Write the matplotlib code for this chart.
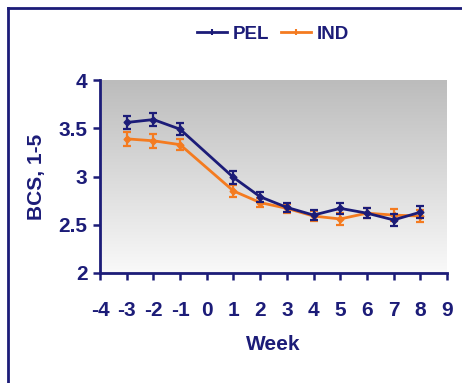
import numpy as np
import matplotlib
matplotlib.use("Agg")
import matplotlib.pyplot as plt
from matplotlib.lines import Line2D
from matplotlib.colors import LinearSegmentedColormap

# Body condition score by week relative to calving
weeks = [-3, -2, -1, 1, 2, 3, 4, 5, 6, 7, 8]
pel_mean = [3.56, 3.59, 3.49, 2.99, 2.79, 2.68, 2.60, 2.67, 2.62, 2.55, 2.63]
pel_err = [0.07, 0.07, 0.06, 0.07, 0.05, 0.05, 0.05, 0.06, 0.05, 0.06, 0.06]
ind_mean = [3.39, 3.37, 3.33, 2.85, 2.73, 2.67, 2.59, 2.56, 2.62, 2.60, 2.59]
ind_err = [0.07, 0.07, 0.06, 0.06, 0.05, 0.05, 0.05, 0.06, 0.05, 0.06, 0.06]
series_names = ["PEL", "IND"]
x_ticks = list(range(-4, 10))
y_ticks = [2, 2.5, 3, 3.5, 4]
y_tick_labels = ["2", "2.5", "3", "3.5", "4"]

NAVY = "#1c1c78"
ORANGE = "#f47b20"

plt.rcParams["font.family"] = ["Liberation Sans", "DejaVu Sans"]
plt.rcParams["font.weight"] = "bold"

fig = plt.figure(figsize=(4.62, 3.83), dpi=100)
fig.patch.set_facecolor("white")

# Outer frame (top and left edges)
fig.add_artist(Line2D([8 / 462, 1.0], [1 - 8 / 383, 1 - 8 / 383],
                      transform=fig.transFigure, color=NAVY, lw=2.0))
fig.add_artist(Line2D([8 / 462, 8 / 462], [0.0, 1 - 8 / 383],
                      transform=fig.transFigure, color=NAVY, lw=2.0))

ax = fig.add_axes([100 / 462, 1 - 273 / 383, 347 / 462, 193 / 383])
ax.set_xlim(-4, 9)
ax.set_ylim(2, 4)

# Gray vertical gradient behind the data
grad = np.linspace(0, 1, 256).reshape(-1, 1)
cmap = LinearSegmentedColormap.from_list("bg", ["#f9f9f9", "#bcbcbc"])
ax.imshow(grad, extent=[-4, 9, 2, 4], origin="lower", aspect="auto",
          cmap=cmap, zorder=0, interpolation="bicubic")

ax.errorbar(weeks, pel_mean, yerr=pel_err, color=NAVY, lw=2.0,
            marker="D", ms=3.5, elinewidth=1.6, capsize=3, capthick=1.6,
            zorder=4, label=series_names[0])
ax.errorbar(weeks, ind_mean, yerr=ind_err, color=ORANGE, lw=2.0,
            marker="D", ms=3.5, elinewidth=1.6, capsize=3, capthick=1.6,
            zorder=3, label=series_names[1])

for s in ["top", "right"]:
    ax.spines[s].set_visible(False)
for s in ["left", "bottom"]:
    ax.spines[s].set_color(NAVY)
    ax.spines[s].set_linewidth(2.0)

ax.set_xticks(x_ticks)
ax.set_xticklabels([str(t) for t in x_ticks], fontweight="bold", fontsize=15)
ax.set_yticks(y_ticks)
ax.set_yticklabels(y_tick_labels, fontweight="bold", fontsize=15)
ax.tick_params(axis="x", direction="out", length=5, width=1.8, color=NAVY,
               labelcolor=NAVY, pad=15)
ax.tick_params(axis="y", direction="out", length=5, width=1.8, color=NAVY,
               labelcolor=NAVY, pad=4)

ax.set_xlabel("Week", color=NAVY, fontsize=15, fontweight="bold", labelpad=11)
ax.set_ylabel("BCS, 1-5", color=NAVY, fontsize=15, fontweight="bold", labelpad=9)

handles = [Line2D([], [], color=NAVY, lw=2.0, marker="|", ms=5, mew=1.5),
           Line2D([], [], color=ORANGE, lw=2.0, marker="|", ms=5, mew=1.5)]
leg = fig.legend(handles, series_names, loc="center", ncol=2,
                 bbox_to_anchor=(273 / 462, 1 - 34 / 383), frameon=False,
                 prop={"size": 13.5, "weight": "bold"}, handlelength=1.6,
                 handletextpad=0.3, columnspacing=0.6)
for t in leg.get_texts():
    t.set_color(NAVY)

fig.savefig("out.png", dpi=100, facecolor="white")
